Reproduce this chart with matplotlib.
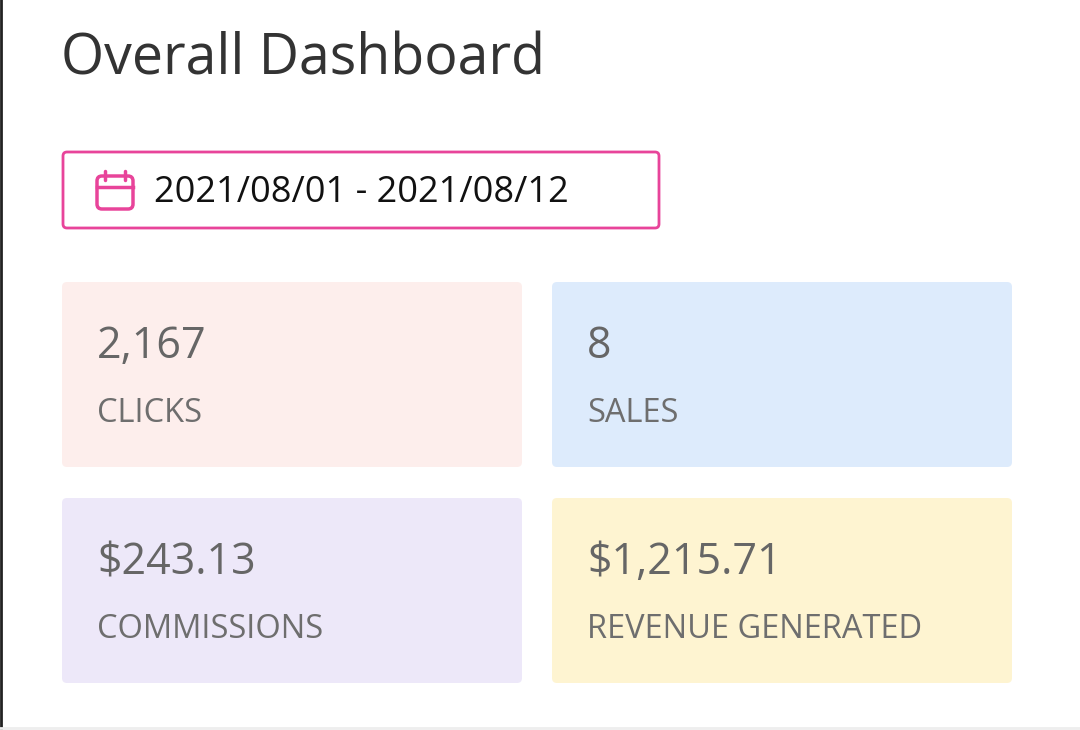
import matplotlib.pyplot as plt
from matplotlib.patches import FancyBboxPatch

plt.rcParams['font.family'] = ['Open Sans', 'DejaVu Sans']

title = "Overall Dashboard"
date_range = "2021/08/01 - 2021/08/12"
values = ["2,167", "8", "$243.13", "$1,215.71"]
labels = ["CLICKS", "SALES", "COMMISSIONS", "REVENUE GENERATED"]
colors = ["#FDEEEC", "#DDEBFC", "#EDE8F9", "#FEF4D1"]
pink = "#E8449A"

fig = plt.figure(figsize=(10.8, 7.3), dpi=100)
ax = fig.add_axes([0, 0, 1, 1])
ax.set_xlim(0, 1080)
ax.set_ylim(730, 0)
ax.axis('off')

# frame edges
ax.plot([1, 1], [0, 730], color='#222222', lw=2)
ax.plot([0, 1080], [728, 728], color='#eeeeee', lw=2)

ax.text(61, 60, title, fontsize=40, color='#333333', va='center')

ax.add_patch(FancyBboxPatch((63, 152), 596, 76, boxstyle="round,pad=0,rounding_size=4",
                            fc='white', ec=pink, lw=2))
# calendar icon
ax.add_patch(FancyBboxPatch((97, 176), 36, 33, boxstyle="round,pad=0,rounding_size=5",
                            fc='none', ec=pink, lw=2.5))
ax.plot([97, 133], [187, 187], color=pink, lw=2.5)
ax.plot([105, 105], [171, 180], color=pink, lw=2.5, solid_capstyle='round')
ax.plot([125, 125], [171, 180], color=pink, lw=2.5, solid_capstyle='round')
ax.text(154, 193, date_range, fontsize=26, color='#111111', va='center')

positions = [(62, 282), (552, 282), (62, 498), (552, 498)]
for (x, y), v, lab, c in zip(positions, values, labels, colors):
    ax.add_patch(FancyBboxPatch((x, y), 460, 185, boxstyle="round,pad=0,rounding_size=5",
                                fc=c, ec='none'))
    ax.text(x + 35, y + 65, v, fontsize=31, color='#666666', va='center')
    ax.text(x + 35, y + 131, lab, fontsize=23.5, color='#6e6e6e', va='center')

fig.savefig('out.png', dpi=100)
